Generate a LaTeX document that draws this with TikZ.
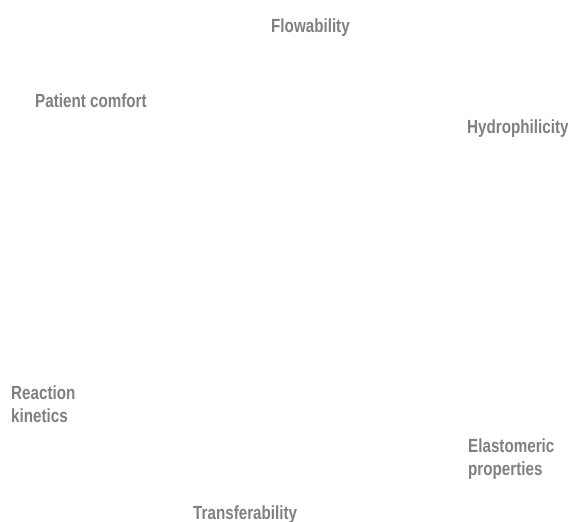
\documentclass[tikz,border=0pt]{standalone}
\usepackage{fontspec}
\setmainfont[FakeStretch=0.8]{Liberation Sans}
\definecolor{labelgray}{HTML}{808080}
\begin{document}
\begin{tikzpicture}[x=1pt,y=-1pt,
  lbl/.style={anchor=base west,inner sep=0pt,text=labelgray,align=left,
    font=\fontsize{19}{23}\selectfont\bfseries}]
\useasboundingbox (0,0) rectangle (568,522);
\node[lbl] (flow) at (271,32) {Flowability};
\node[lbl] (patient) at (35,107) {Patient comfort};
\node[lbl] (hydro) at (467,133) {Hydrophilicity};
\node[lbl] (react) at (11,422) {Reaction\\kinetics};
\node[lbl] (elast) at (468,475) {Elastomeric\\properties};
\node[lbl] (trans) at (193,519) {Transferability};
\end{tikzpicture}
\end{document}
